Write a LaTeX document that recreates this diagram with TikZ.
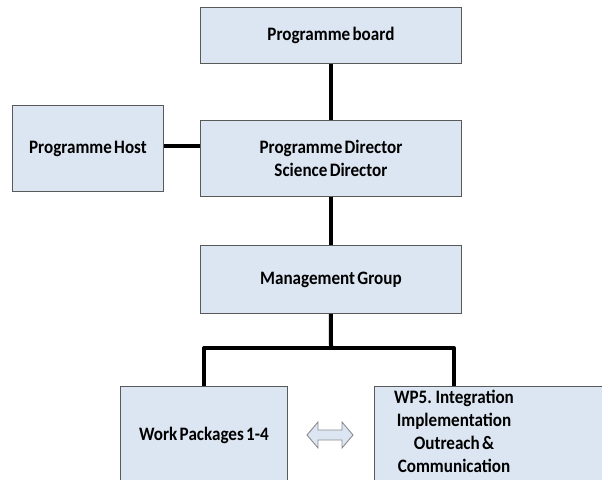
\documentclass[tikz,border=0pt]{standalone}
\usepackage{fontspec}
\setmainfont{Carlito}[FakeStretch=0.9, WordSpace=0.6]
\usetikzlibrary{calc}
\begin{document}
\begin{tikzpicture}[x=1pt,y=-1pt,
  box/.style={draw=black!65, line width=0.9pt, fill=boxblue, inner sep=0pt,
    font=\bfseries\fontsize{19}{23}\selectfont, align=center, anchor=north west},
  link/.style={line width=4pt, black},
  txt/.style={font=\bfseries\fontsize{19}{23}\selectfont, align=center, inner sep=0pt}]
\definecolor{boxblue}{HTML}{DCE6F2}
\definecolor{arrowgray}{HTML}{8C8C8C}
\useasboundingbox (0,0) rectangle (602,479);
\clip (0,0) rectangle (602,479);

% boxes
\node[box, minimum width=261pt, minimum height=56pt] (board) at (200,7) {Programme board};
\node[box, minimum width=261pt, minimum height=76pt] (director) at (200,120) {Programme Director\\Science Director};
\node[box, minimum width=151pt, minimum height=86pt] (host) at (12,105) {Programme Host};
\node[box, minimum width=261pt, minimum height=68pt] (mg) at (200,245) {Management Group};
\node[box, minimum width=167pt, minimum height=98pt] (wp) at (120,386) {Work Packages 1-4};
\node[box, minimum width=260pt, minimum height=110pt] (wp5) at (374,386) {};
\node[txt] (wp5text) at (454,431) {WP5. Integration\\Implementation\\Outreach \&\\Communication};

% connectors
\draw[link] (board.south) -- (director.north);
\draw[link] (director.south) -- (mg.north);
\draw[link] (host.east |- 0,146) -- (director.west |- 0,146);
\coordinate (split) at (331,348);
\coordinate (wp5top) at (454,386);
\draw[link] (mg.south) -- (split);
\draw[link, line join=round] (wp.north) |- (split) -| (wp5top);

% two-way block arrow between the work package boxes
\coordinate (dbl) at (330,435);
\draw[arrowgray, line width=0.9pt, fill=boxblue, line join=miter]
  ($(dbl)+(-23,0)$) -- ++(11,-13) -- ++(0,8) -- ++(24,0) -- ++(0,-8) -- ++(11,13)
  -- ++(-11,13) -- ++(0,-8) -- ++(-24,0) -- ++(0,8) -- cycle;
\end{tikzpicture}
\end{document}
